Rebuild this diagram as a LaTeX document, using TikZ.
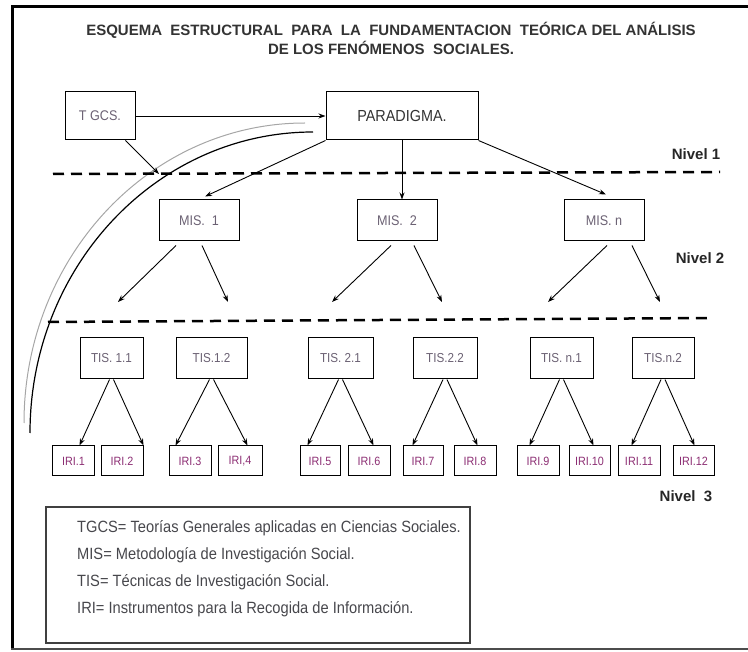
\documentclass[tikz,border=0pt]{standalone}
\usepackage{fontspec}
\setmainfont{Liberation Sans}
\newfontfamily\narrowfont[FakeStretch=0.9]{Liberation Sans}
\usetikzlibrary{arrows.meta}
\definecolor{boxtext}{rgb}{0.42,0.38,0.45}
\definecolor{iritext}{rgb}{0.55,0.18,0.45}
\definecolor{legendtext}{rgb}{0.28,0.28,0.3}
\definecolor{titletext}{rgb}{0.2,0.2,0.2}
\tikzset{
  sbox/.style={draw,line width=1pt,minimum height=41pt,minimum width=64pt,inner sep=0pt,text=boxtext,font=\narrowfont\fontsize{13}{15}\selectfont},
  iribox/.style={draw,line width=1pt,minimum height=30pt,minimum width=42pt,inner sep=0pt,text=iritext,font=\narrowfont\fontsize{12}{14}\selectfont},
  arr/.style={-{Stealth[length=7pt,width=5pt]},line width=0.9pt},
  divline/.style={line width=2.5pt,dash pattern=on 11pt off 7pt},
  nivel/.style={font=\fontsize{15}{17}\selectfont\bfseries,text=black!85},
  legline/.style={anchor=west,inner sep=0pt,text=legendtext,font=\narrowfont\fontsize{16.3}{18}\selectfont}
}
\newcommand{\drawirilink}[3]{
  \draw[arr] ([xshift=-2pt]#1.south) -- (#1.south west |- #2.north);
  \draw[arr] ([xshift=2pt]#1.south) -- (#1.south east |- #3.north);
}

\begin{document}
\begin{tikzpicture}[x=1pt,y=-1pt]
  \useasboundingbox (0,0) rectangle (748,652);
  \draw[line width=3.5pt] (748,6.5) -- (12.5,6.5) -- (12.5,650);
  \draw[line width=2pt,black!70] (11,649) -- (748,649);

  \node[font=\fontsize{15}{19}\selectfont\bfseries,text=titletext,align=center] (title) at (391,38.5)
    {ESQUEMA\ \ ESTRUCTURAL\ \ PARA\ \ LA\ \ FUNDAMENTACION\ \ TEÓRICA DEL ANÁLISIS\\DE LOS FENÓMENOS\ \ SOCIALES.};

  % arcs behind
  \draw[black!35,line width=1pt] (305,123) arc[start angle=90,end angle=180,x radius=281pt,y radius=300pt];
  \draw[line width=1.2pt] (313,132) arc[start angle=90,end angle=180,x radius=283pt,y radius=301pt];

  \draw[divline] (53,174) -- (720,172);
  \draw[divline] (48,322) -- (712,318);

  \node[sbox,minimum width=70pt,minimum height=48pt,font=\narrowfont\fontsize{14}{16}\selectfont] (tgcs) at (100,116) {T GCS.};
  \node[sbox,minimum width=152pt,minimum height=48pt,text=black!80,font=\narrowfont\fontsize{16}{18}\selectfont] (para) at (402,116) {PARADIGMA.};
  \coordinate (tgcsend) at (159,174);
  \draw[arr] (tgcs.east) -- (para.west);
  \draw[arr] ([xshift=-10pt]tgcs.south east) -- (tgcsend);

  \node[sbox,minimum width=80pt,font=\narrowfont\fontsize{14}{16}\selectfont] (mis1) at (199,220.5) {MIS.\ \ 1};
  \node[sbox,minimum width=80pt,font=\narrowfont\fontsize{14}{16}\selectfont] (mis2) at (397,220.5) {MIS.\ \ 2};
  \node[sbox,minimum width=80pt,font=\narrowfont\fontsize{14}{16}\selectfont] (misn) at (604,220.5) {MIS. n};
  \draw[arr] (para.south west) -- ([shift={(6,-3)}]mis1.north);
  \draw[arr] (para.south) -- (para.south |- mis2.north);
  \draw[arr] (para.south east) -- ([shift={(2,-5)}]misn.north);

  \coordinate (m1l) at (118,302);
  \coordinate (m1r) at (228,302);
  \coordinate (m2l) at (332,302);
  \coordinate (m2r) at (442,302);
  \coordinate (mnl) at (548,302);
  \coordinate (mnr) at (660,302);
  \draw[arr] ([shift={(-23,4)}]mis1.south) -- (m1l);
  \draw[arr] ([shift={(3,4)}]mis1.south) -- (m1r);
  \draw[arr] ([shift={(-6,4)}]mis2.south) -- (m2l);
  \draw[arr] ([shift={(17,4)}]mis2.south) -- (m2r);
  \draw[arr] ([shift={(3,4)}]misn.south) -- (mnl);
  \draw[arr] ([shift={(28,4)}]misn.south) -- (mnr);

  \node[nivel] (niv1) at (696,154) {Nivel 1};
  \node[nivel] (niv2) at (700,258) {Nivel 2};
  \node[nivel] (niv3) at (686,496) {Nivel\ \ 3};

  \node[sbox,minimum width=63pt] (tis11) at (111.5,358.5) {TIS. 1.1};
  \node[sbox,minimum width=71pt] (tis12) at (211.5,358.5) {TIS.1.2};
  \node[sbox,minimum width=65pt] (tis21) at (340.5,358.5) {TIS. 2.1};
  \node[sbox,minimum width=64pt] (tis22) at (445,358.5) {TIS.2.2};
  \node[sbox,minimum width=63pt] (tisn1) at (561.5,358.5) {TIS. n.1};
  \node[sbox,minimum width=62pt] (tisn2) at (663,358.5) {TIS.n.2};

  \node[iribox] (iri1) at (73.5,461) {IRI.1};
  \node[iribox] (iri2) at (122,461) {IRI.2};
  \node[iribox] (iri3) at (190,461) {IRI.3};
  \node[iribox,minimum width=44pt] (iri4) at (240,461) {IRI,4};
  \node[iribox,minimum width=40pt] (iri5) at (320,461) {IRI.5};
  \node[iribox] (iri6) at (369,461) {IRI.6};
  \node[iribox,minimum width=40pt] (iri7) at (423,461) {IRI.7};
  \node[iribox] (iri8) at (475,461) {IRI.8};
  \node[iribox] (iri9) at (538,461) {IRI.9};
  \node[iribox,minimum width=41pt] (iri10) at (589.5,461) {IRI.10};
  \node[iribox] (iri11) at (639,461) {IRI.11};
  \node[iribox,minimum width=41pt] (iri12) at (693.5,461) {IRI.12};

  \drawirilink{tis11}{iri1}{iri2}
  \drawirilink{tis12}{iri3}{iri4}
  \drawirilink{tis21}{iri5}{iri6}
  \drawirilink{tis22}{iri7}{iri8}
  \drawirilink{tisn1}{iri9}{iri10}
  \drawirilink{tisn2}{iri11}{iri12}

  \node[draw=black!75,line width=1.2pt,minimum width=424pt,minimum height=136pt] (leyenda) at (258,575) {};
  \node[legline] (leg1) at (77,528) {TGCS= Teorías Generales aplicadas en Ciencias Sociales.};
  \node[legline] (leg2) at (77,555) {MIS= Metodología de Investigación Social.};
  \node[legline] (leg3) at (77,582) {TIS= Técnicas de Investigación Social.};
  \node[legline] (leg4) at (77,609) {IRI= Instrumentos para la Recogida de Información.};
\end{tikzpicture}
\end{document}
